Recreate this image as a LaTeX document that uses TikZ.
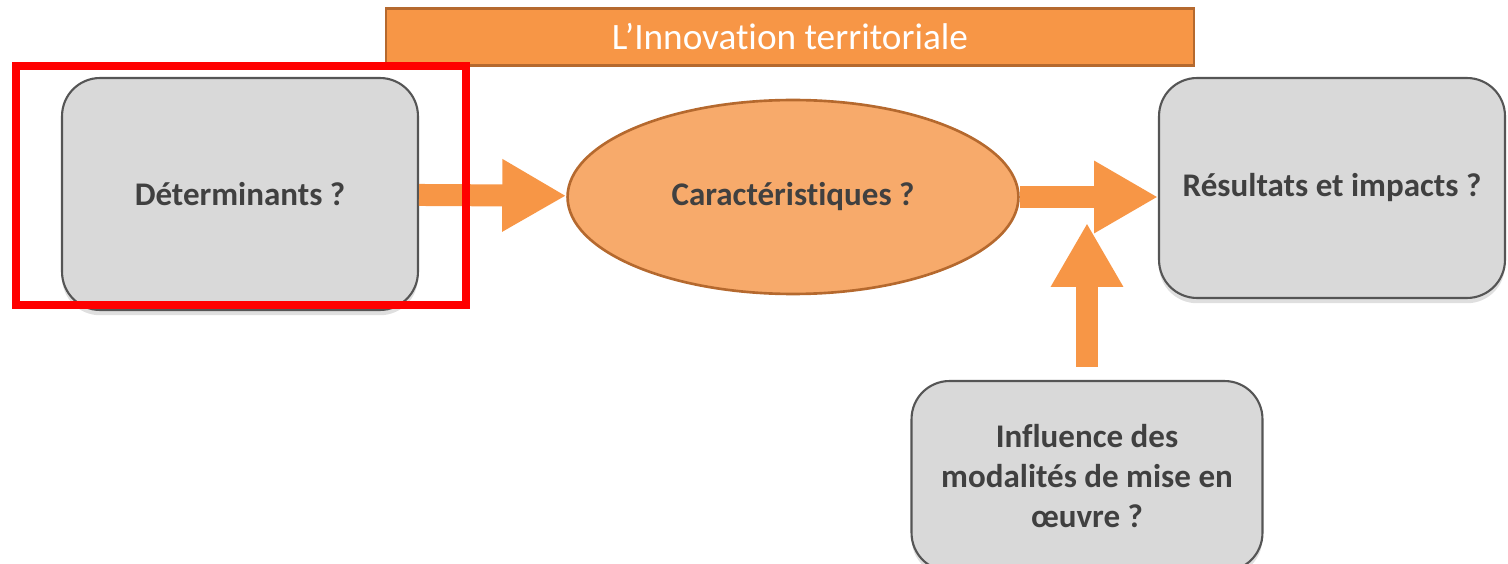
\documentclass[tikz,border=0pt]{standalone}
\usepackage{fontspec}
\setmainfont[Ligatures=NoCommon, Contextuals=NoAlternate]{Carlito}
\usepackage{tikz}
\usetikzlibrary{arrows.meta, shapes.geometric, shadows}

\definecolor{orangeA}{HTML}{F79646}
\definecolor{orangeB}{HTML}{F7AA6B}
\definecolor{orangeLine}{HTML}{B5692E}
\definecolor{boxFill}{HTML}{D9D9D9}
\definecolor{boxLine}{HTML}{555555}
\definecolor{txt}{HTML}{404040}

\tikzset{
  greybox/.style={draw=boxLine, line width=1.2pt, fill=boxFill, rounded corners=0.76cm,
    align=center, text=txt, font=\fontsize{18.8}{23}\selectfont\bfseries,
    drop shadow={opacity=0.25, shadow xshift=0pt, shadow yshift=-3pt}},
  bigarrow/.style={draw=orangeA, line width=0.44cm,
    -{Triangle[length=1.28cm, width=1.36cm, fill=orangeA]}}
}

\begin{document}
\begin{tikzpicture}[x=0.02cm, y=-0.02cm]
\clip (0,0) rectangle (1508,564);
%
\node(title) at (790,37) [draw=orangeLine, line width=1.5pt, fill=orangeA, minimum width=16.16cm,
  minimum height=1.14cm, text=white, font=\fontsize{21.2}{25}\selectfont] {L’Innovation territoriale};
%
\node(det) at (240,194) [greybox, minimum width=7.12cm, minimum height=4.64cm] {Déterminants ?};
\node(car) at (793,197) [ellipse, draw=orangeLine, line width=1.5pt, fill=orangeB, minimum width=9.02cm,
  minimum height=3.88cm, text=txt, font=\fontsize{18.8}{23}\selectfont\bfseries] {Caractéristiques ?};
\node(res) at (1332,188) [greybox, minimum width=6.92cm, minimum height=4.4cm] {Résultats et impacts ?};
\node(infl) at (1087,476) [greybox, minimum width=7.02cm, minimum height=3.8cm]
  {Influence des\\modalités de mise en\\œuvre ?};
%
\draw[bigarrow](det) -- (car) {};
\draw[bigarrow](car) -- (res.west |- car) {};
\coordinate(uptop) at (1087,223);
\draw[bigarrow, shorten <=0.26cm](infl.north) -- (uptop) {};
%
\draw[red, line width=0.16cm](16,66) rectangle (466,305);
\end{tikzpicture}
\end{document}
